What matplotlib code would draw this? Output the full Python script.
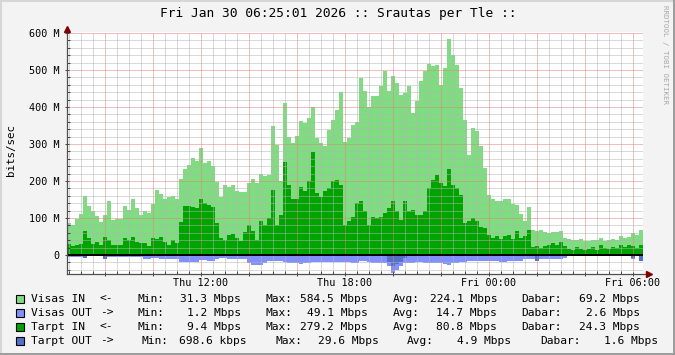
import numpy as np
import matplotlib
matplotlib.use("Agg")
import matplotlib.pyplot as plt
from matplotlib.patches import Rectangle

# 10 minute samples, Thu 06:25:01 -> Fri 06:25:01, values in Mbit/s
visas_in = [
    86, 80, 97, 110, 160, 133, 118, 105, 88, 108, 145, 95,
    98, 96, 132, 122, 150, 128, 108, 120, 113, 138, 175, 165,
    152, 158, 160, 151, 205, 233, 242, 262, 255, 290, 248, 255,
    240, 197, 158, 190, 183, 190, 174, 170, 169, 195, 206, 195,
    219, 214, 217, 348, 298, 199, 411, 320, 303, 321, 363, 357,
    370, 400, 316, 303, 294, 339, 366, 393, 440, 305, 316, 350,
    360, 478, 442, 400, 429, 429, 456, 496, 442, 483, 465, 433,
    438, 456, 384, 415, 469, 496, 516, 510, 514, 460, 505, 584,
    540, 514, 451, 366, 271, 343, 334, 294, 235, 163, 150, 145,
    145, 150, 150, 138, 136, 110, 91, 131, 68, 64, 68, 62,
    59, 62, 62, 64, 46, 44, 40, 41, 44, 37, 39, 40,
    41, 46, 37, 40, 44, 41, 50, 46, 48, 59, 53, 68,
]
tarpt_in = [
    30, 24, 26, 30, 65, 45, 30, 35, 27, 48, 40, 27,
    28, 28, 45, 40, 48, 36, 33, 32, 23, 45, 42, 48,
    34, 28, 40, 32, 90, 133, 132, 130, 127, 150, 140, 135,
    130, 86, 45, 41, 55, 58, 46, 37, 62, 80, 64, 41,
    91, 82, 100, 177, 82, 109, 251, 190, 150, 152, 183, 172,
    199, 279, 168, 158, 172, 181, 199, 204, 190, 82, 91, 104,
    140, 145, 118, 82, 104, 100, 104, 113, 127, 145, 118, 95,
    145, 118, 122, 109, 109, 118, 181, 204, 217, 195, 186, 232,
    190, 181, 163, 86, 91, 100, 91, 77, 73, 55, 46, 50,
    44, 50, 53, 44, 64, 46, 50, 68, 21, 23, 19, 23,
    28, 32, 28, 35, 23, 17, 14, 21, 17, 14, 17, 21,
    14, 26, 19, 17, 21, 19, 28, 21, 28, 23, 19, 26,
]
visas_out = [
    5, 5, 5, 5, 8, 4, 4, 4, 4, 12, 5, 5,
    5, 5, 5, 5, 5, 5, 5, 10, 10, 8, 8, 10,
    10, 10, 10, 10, 20, 20, 20, 20, 18, 14, 14, 17,
    17, 10, 8, 8, 10, 10, 10, 10, 10, 22, 26, 27,
    27, 22, 17, 17, 17, 17, 20, 22, 22, 22, 24, 22,
    22, 20, 18, 18, 20, 18, 18, 20, 18, 18, 20, 22,
    22, 17, 17, 20, 22, 22, 22, 22, 31, 49, 40, 31,
    22, 22, 22, 20, 20, 22, 22, 22, 22, 22, 25, 28,
    22, 22, 20, 18, 17, 17, 17, 17, 15, 15, 17, 17,
    20, 20, 17, 17, 15, 15, 12, 12, 12, 17, 12, 12,
    12, 10, 10, 10, 8, 3, 3, 3, 3, 3, 3, 3,
    3, 3, 3, 3, 3, 3, 3, 3, 3, 10, 3, 17,
]
tarpt_out = [
    2, 2, 2, 2, 7, 2, 2, 2, 2, 12, 2, 2,
    2, 2, 2, 2, 2, 2, 2, 2, 2, 2, 2, 2,
    2, 2, 2, 2, 3, 3, 3, 3, 3, 2, 2, 2,
    2, 2, 2, 2, 2, 2, 2, 2, 2, 3, 3, 3,
    3, 3, 3, 2, 2, 2, 3, 3, 3, 3, 3, 3,
    3, 3, 3, 3, 3, 3, 3, 3, 3, 3, 3, 3,
    3, 3, 3, 3, 3, 3, 3, 3, 20, 29, 25, 18,
    8, 3, 3, 3, 3, 3, 3, 3, 3, 3, 3, 3,
    3, 3, 3, 2, 2, 2, 2, 2, 2, 2, 2, 2,
    2, 2, 2, 2, 2, 2, 2, 2, 2, 17, 2, 2,
    2, 2, 2, 2, 1, 1, 1, 1, 1, 1, 1, 1,
    1, 1, 1, 1, 1, 1, 1, 1, 1, 9, 1, 15,
]

series_names = ["Visas IN", "Visas OUT", "Tarpt IN", "Tarpt OUT"]
series_dirs = ["<-", "->", "<-", "->"]
series_colors = ["#80dc80", "#8090ff", "#00a400", "#5470c8"]
stat_min = ["31.3 Mbps", "1.2 Mbps", "9.4 Mbps", "698.6 kbps"]
stat_max = ["584.5 Mbps", "49.1 Mbps", "279.2 Mbps", "29.6 Mbps"]
stat_avg = ["224.1 Mbps", "14.7 Mbps", "80.8 Mbps", "4.9 Mbps"]
stat_cur = ["69.2 Mbps", "2.6 Mbps", "24.3 Mbps", "1.6 Mbps"]

x_labels = ["Thu 12:00", "Thu 18:00", "Fri 00:00", "Fri 06:00"]
x_label_hours = [12, 18, 24, 30]

title = "Fri Jan 30 06:25:01 2026 :: Srautas per Tle ::"

W, H = 675, 355
M = 1e6
mono = "DejaVu Sans Mono"

start_h = 6 + 25 / 60 + 1 / 3600
step_h = 1 / 6
n = len(visas_in)
end_h = start_h + n * step_h
edges = start_h + step_h * np.arange(n + 1)


def stepped(vals):
    v = np.asarray(vals, dtype=float)
    return np.append(v, v[-1]) * M


def fx(px):
    return px / W


def fy(py):
    return 1 - py / H


fig = plt.figure(figsize=(W / 100, H / 100), dpi=100, facecolor="#f3f3f3")

# frame shading
fig.add_artist(Rectangle((0, fy(2)), 1, 2 / H, transform=fig.transFigure, color="#d6d6d6", lw=0))
fig.add_artist(Rectangle((0, 0), 2 / W, 1, transform=fig.transFigure, color="#d6d6d6", lw=0))
fig.add_artist(Rectangle((0, 0), 1, 2 / H, transform=fig.transFigure, color="#9e9e9e", lw=0))
fig.add_artist(Rectangle((1 - 2 / W, 0), 2 / W, 1, transform=fig.transFigure, color="#9e9e9e", lw=0))

y_bot, y_top = 273.5, 31.5
ax = fig.add_axes([fx(67), fy(y_bot), 576 / W, (y_bot - y_top) / H])
ax.set_facecolor("white")
ymin, ymax = -50 * M, 604 * M
ax.set_xlim(start_h, end_h)
ax.set_ylim(ymin, ymax)

ax.fill_between(edges, 0, stepped(visas_in), step="post", color=series_colors[0], lw=0, antialiased=False, zorder=1)
ax.fill_between(edges, 0, -stepped(visas_out), step="post", color=series_colors[1], lw=0, antialiased=False, zorder=1)
ax.fill_between(edges, 0, stepped(tarpt_in), step="post", color=series_colors[2], lw=0, antialiased=False, zorder=1)
ax.fill_between(edges, 0, -stepped(tarpt_out), step="post", color=series_colors[3], lw=0, antialiased=False, zorder=1)

# grid: minor 30 min / 20 M, major 2 h / 100 M
xmaj = np.arange(8, 31, 2)
ax.set_xticks(xmaj)
ax.set_xticklabels([x_labels[x_label_hours.index(h)] if h in x_label_hours else "" for h in xmaj])
ax.set_xticks(np.arange(6.5, 30.5, 0.5), minor=True)
ymaj = np.arange(0, 601, 100) * M
ax.set_yticks(ymaj)
ax.set_yticklabels(["0"] + [f"{int(v / M)} M" for v in ymaj[1:]])
ax.set_yticks(np.arange(-40, 601, 20) * M, minor=True)

ax.set_axisbelow(False)
ax.grid(which="minor", color="#b4b4b4", lw=0.72, ls=(0, (1, 1)))
ax.grid(which="major", color="#e08080", lw=0.72, ls=(0, (1, 1)))

ax.tick_params(which="both", labelsize=7.3, colors="#404040", labelcolor="black", width=0.7)
ax.tick_params(which="major", length=3, direction="inout")
ax.tick_params(which="minor", length=2, direction="in")
ax.tick_params(axis="x", which="major", pad=1.5)
ax.tick_params(axis="y", which="major", pad=4)
for lab in ax.get_xticklabels() + ax.get_yticklabels():
    lab.set_family(mono)

for s in ax.spines.values():
    s.set_visible(False)

axis_col = "#505050"
ax.plot([start_h, start_h], [ymin, ymax + 6 * M], color=axis_col, lw=0.9, clip_on=False, zorder=4)
ax.plot([start_h, end_h + 0.22], [ymin, ymin], color=axis_col, lw=0.9, clip_on=False, zorder=4)
ax.plot([start_h], [ymax + 8 * M], marker="^", ms=4.5, color="#7f0000", clip_on=False, zorder=5)
ax.plot([end_h + 0.27], [ymin], marker=">", ms=4.5, color="#7f0000", clip_on=False, zorder=5)

ax.axhline(0, color="black", lw=1.44, zorder=3)

# texts
fig.text(fx(338), fy(14), title, ha="center", va="center", family=mono, fontsize=9.3)
fig.text(fx(11), fy(150), "bits/sec", rotation=90, ha="center", va="center", family=mono, fontsize=7.8)
fig.text(fx(665.5), fy(5), "RRDTOOL / TOBI OETIKER", rotation=270, ha="center", va="top",
         family=mono, fontsize=5.4, color="#a8a8a8")

# legend
row_y = [299, 313, 327, 341]
cols_std = [137, 241, 265.5, 368, 393, 497, 521.5, 639.5]
cols_last = [142, 246.5, 275.5, 379, 407, 511, 540.5, 658.5]
fs = 8.1
for i in range(4):
    y = row_y[i]
    c = cols_last if i == 3 else cols_std
    fig.add_artist(Rectangle((fx(15.5), fy(y + 4)), 8 / W, 8 / H, transform=fig.transFigure,
                             facecolor=series_colors[i], edgecolor="black", lw=0.8))
    kw = dict(va="center", family=mono, fontsize=fs)
    fig.text(fx(31), fy(y), series_names[i], ha="left", **kw)
    fig.text(fx(100), fy(y), series_dirs[i], ha="left", **kw)
    fig.text(fx(c[0]), fy(y), "Min:", ha="left", **kw)
    fig.text(fx(c[1]), fy(y), stat_min[i], ha="right", **kw)
    fig.text(fx(c[2]), fy(y), "Max:", ha="left", **kw)
    fig.text(fx(c[3]), fy(y), stat_max[i], ha="right", **kw)
    fig.text(fx(c[4]), fy(y), "Avg:", ha="left", **kw)
    fig.text(fx(c[5]), fy(y), stat_avg[i], ha="right", **kw)
    fig.text(fx(c[6]), fy(y), "Dabar:", ha="left", **kw)
    fig.text(fx(c[7]), fy(y), stat_cur[i], ha="right", **kw)

fig.savefig("out.png", dpi=100, facecolor=fig.get_facecolor())
